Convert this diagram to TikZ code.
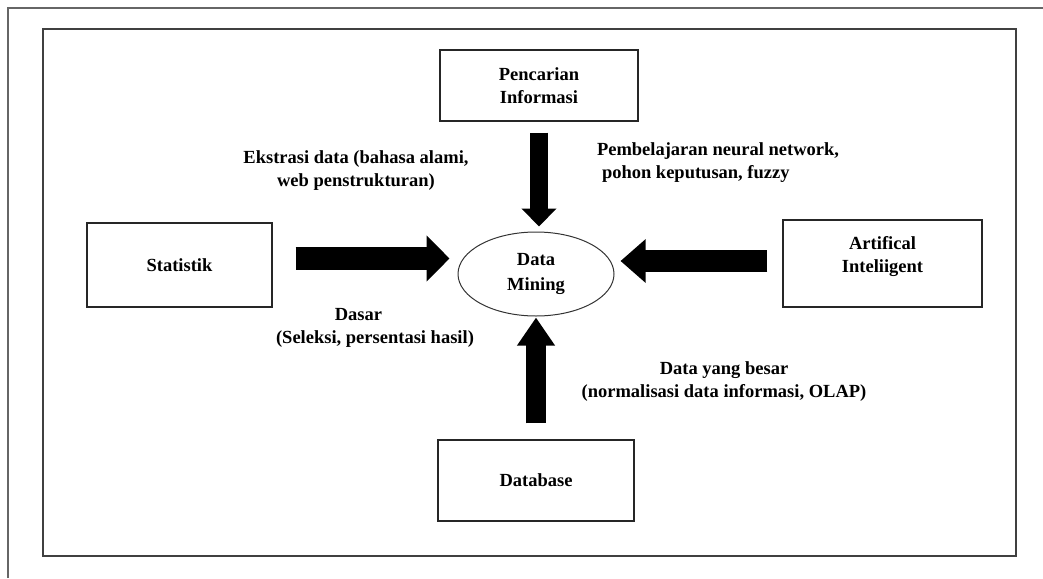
\documentclass[tikz,border=0pt]{standalone}
\usepackage{fontspec}
\setmainfont{Liberation Serif}
\usetikzlibrary{arrows.meta,shapes.geometric}
\begin{document}
\begin{tikzpicture}[x=1pt,y=-1pt,
  every node/.style={font=\bfseries\fontsize{18.5}{23}\selectfont},
  box/.style={draw=black!85,line width=1.3pt,rectangle,inner sep=0pt,align=center},
  lbl/.style={align=center,inner sep=0pt},
  bigarrow/.style={line width=#1,line cap=butt,draw=black},
]
\useasboundingbox (0,0) rectangle (1043,578);

% page frame (top and left edges) and the figure border
\draw[black!60,line width=1.5pt] (8,578) -- (8,8) -- (1043,8);
\draw[black!75,line width=1.5pt] (43,29) rectangle (1016,556);

% source boxes
\node[box,minimum width=198pt,minimum height=71pt] (pi) at (539,85.5) {Pencarian\\Informasi};
\node[box,minimum width=185pt,minimum height=84pt] (stat) at (179.5,265) {Statistik};
\node[box,minimum width=199pt,minimum height=87pt,
      label={[lbl,yshift=7pt]center:Artifical\\Inteliigent}] (ai) at (882.5,263.5) {};
\node[box,minimum width=196pt,minimum height=81pt] (db) at (536,480.5) {Database};

% centre
\node[draw=black!80,line width=1pt,ellipse,minimum width=156pt,minimum height=84pt,
      inner sep=0pt,align=center,font=\bfseries\fontsize{18.5}{25}\selectfont] (dm) at (536,274) {Data\\Mining};

% thick arrows into the centre
\draw[bigarrow=18pt,-{Triangle[length=18pt,width=34pt]},shorten <=11pt,shorten >=5pt]
  (pi.south) -- (pi.south |- dm.north);
\draw[bigarrow=23pt,-{Triangle[length=23pt,width=45pt]},shorten <=23pt,shorten >=8pt]
  ([yshift=6.5pt]stat.east) -- ([yshift=6.5pt]stat.east -| dm.west);
\draw[bigarrow=22pt,-{Triangle[length=25pt,width=42pt]},shorten <=15pt,shorten >=6pt]
  ([yshift=2.5pt]ai.west) -- ([yshift=2.5pt]ai.west -| dm.east);
\draw[bigarrow=20pt,-{Triangle[length=28pt,width=36pt]},shorten <=16pt,shorten >=1pt]
  (db.north) -- (db.north |- dm.south);

% arrow labels
\node[lbl] (t1) at (356,171) {Ekstrasi data (bahasa alami,\\web penstrukturan)};
\node[lbl,align=left] (t2) at (718,162.5) {Pembelajaran neural network,\\\hspace*{5pt}pohon keputusan, fuzzy};
\node[lbl] (t3) at (375,328) {Dasar\hspace*{33pt}\\(Seleksi, persentasi hasil)};
\node[lbl] (t4) at (724,382) {Data yang besar\\(normalisasi data informasi, OLAP)};
\end{tikzpicture}
\end{document}
